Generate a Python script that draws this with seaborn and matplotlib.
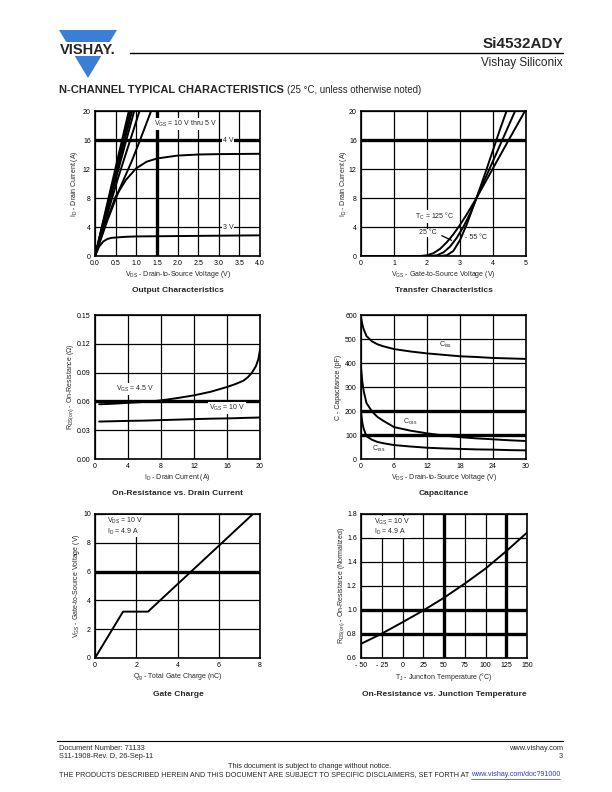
import matplotlib
matplotlib.use("Agg")
import matplotlib.pyplot as plt
from matplotlib.patches import Polygon, Rectangle
import seaborn as sns

# ---- output characteristics: VDS (V) vs ID (A) ----
out_vds_10v = [0.0, 0.82]
out_id_10v = [0.0, 20.0]
out_vds_9v = [0.0, 0.86]
out_id_9v = [0.0, 20.0]
out_vds_8v = [0.0, 0.90]
out_id_8v = [0.0, 20.0]
out_vds_7v = [0.0, 0.95]
out_id_7v = [0.0, 20.0]
out_vds_6v = [0.0, 0.55, 1.08]
out_id_6v = [0.0, 10.6, 20.0]
out_vds_5v = [0.0, 0.3, 0.6, 0.9, 1.1, 1.36]
out_id_5v = [0.0, 4.9, 9.3, 13.2, 16.1, 20.0]
out_vds_4v = [0.0, 0.1, 0.25, 0.5, 0.75, 1.0, 1.25, 1.5, 2.0, 2.5, 3.0, 4.0]
out_id_4v = [0.0, 1.8, 4.4, 8.2, 10.5, 12.1, 13.0, 13.45, 13.85, 14.0, 14.05, 14.1]
out_vds_3v = [0.0, 0.1, 0.2, 0.3, 0.4, 0.5, 0.75, 1.0, 2.0, 3.0, 4.0]
out_id_3v = [0.0, 1.3, 2.0, 2.35, 2.5, 2.55, 2.65, 2.7, 2.75, 2.8, 2.85]

# ---- transfer characteristics: VGS (V) vs ID (A) ----
tr_vgs_125 = [0.0, 1.8, 2.0, 2.2, 2.4, 2.6, 2.8, 3.0, 3.2, 3.5, 4.0, 4.5, 4.97]
tr_id_125 = [0.0, 0.0, 0.1, 0.4, 1.0, 1.9, 3.0, 4.3, 5.7, 8.0, 12.1, 16.2, 20.0]
tr_vgs_25 = [0.0, 2.1, 2.3, 2.5, 2.7, 2.9, 3.1, 3.3, 3.5, 4.0, 4.67]
tr_id_25 = [0.0, 0.0, 0.1, 0.5, 1.3, 2.5, 4.0, 5.8, 8.0, 13.1, 20.0]
tr_vgs_m55 = [0.0, 2.4, 2.6, 2.8, 3.0, 3.2, 3.5, 3.8, 4.0, 4.2, 4.41]
tr_id_m55 = [0.0, 0.0, 0.1, 0.7, 2.2, 4.3, 8.0, 11.9, 14.6, 17.3, 20.0]

# ---- on-resistance vs drain current ----
ron_id = [0.5, 2, 4, 6, 8, 10, 12, 14, 16, 17, 18, 18.5, 19, 19.5, 19.8, 20]
ron_45v = [0.057, 0.0575, 0.0585, 0.0595, 0.061, 0.0635, 0.0663, 0.070, 0.075,
           0.078, 0.0816, 0.085, 0.0896, 0.0966, 0.104, 0.114]
ron_10v = [0.039, 0.0393, 0.0397, 0.040, 0.0405, 0.041, 0.0415, 0.042, 0.0423,
           0.0425, 0.0428, 0.0429, 0.043, 0.0431, 0.0432, 0.0433]

# ---- capacitance vs VDS ----
cap_vds = [0, 0.25, 0.5, 1, 2, 3, 4, 6, 9, 12, 15, 18, 21, 24, 27, 30]
cap_ciss = [590, 560, 540, 512, 490, 478, 470, 458, 448, 440, 434, 428, 425, 421, 419, 417]
cap_coss = [380, 320, 282, 233, 198, 175, 160, 133, 118, 107, 98, 91, 86, 82, 78, 75]
cap_crss = [195, 150, 125, 95, 80, 71, 66, 58, 52, 47, 44, 42, 40, 39, 37, 36]

# ---- gate charge ----
gate_qg = [0.0, 1.36, 2.57, 7.66]
gate_vgs = [0.0, 3.22, 3.22, 10.0]

# ---- on-resistance vs junction temperature ----
tj_temp = [-50, -25, 0, 25, 50, 75, 100, 125, 150]
tj_ron = [0.718, 0.803, 0.898, 0.996, 1.102, 1.22, 1.345, 1.49, 1.645]

W, H = 612, 792
sns.set_style("white")
plt.rcParams["font.family"] = ["Liberation Sans", "DejaVu Sans"]
plt.rcParams["mathtext.fontset"] = "custom"
plt.rcParams["mathtext.rm"] = "Liberation Sans"

fig = plt.figure(figsize=(W / 100, H / 100), dpi=100)


def box(l, t, r, b):
    return [l / W, 1 - b / H, (r - l) / W, (b - t) / H]


def px(x, y):
    return x / W, 1 - y / H


def style(ax, xlim, ylim, xticks, yticks, xlabs, ylabs, thick_x=(), thick_y=()):
    ax.set_xlim(xlim)
    ax.set_ylim(ylim)
    ax.set_xticks(xticks)
    ax.set_yticks(yticks)
    ax.set_xticklabels(xlabs)
    ax.set_yticklabels(ylabs)
    ax.set_axisbelow(True)
    ax.grid(True, color="black", lw=0.9)
    for v in thick_x:
        ax.axvline(v, color="black", lw=2.4, zorder=1)
    for v in thick_y:
        ax.axhline(v, color="black", lw=2.4, zorder=1)
    ax.tick_params(length=0, labelsize=5, pad=3, colors="black")
    for s in ax.spines.values():
        s.set_visible(True)
        s.set_color("black")
        s.set_linewidth(1.2)


def curve(ax, xs, ys):
    sns.lineplot(x=xs, y=ys, ax=ax, color="black", lw=1.4,
                 estimator=None, sort=False, zorder=3)


white = dict(facecolor="white", edgecolor="none", pad=0.6)
fs = 5

# ---------- Output characteristics ----------
ax1 = fig.add_axes(box(95, 111, 260, 256))
for xs, ys in [(out_vds_10v, out_id_10v), (out_vds_9v, out_id_9v), (out_vds_8v, out_id_8v),
               (out_vds_7v, out_id_7v), (out_vds_6v, out_id_6v), (out_vds_5v, out_id_5v),
               (out_vds_4v, out_id_4v), (out_vds_3v, out_id_3v)]:
    curve(ax1, xs, ys)
xt = [0.0, 0.5, 1.0, 1.5, 2.0, 2.5, 3.0, 3.5, 4.0]
style(ax1, (0, 4), (0, 20), xt, [0, 4, 8, 12, 16, 20],
      [f"{v:.1f}" for v in xt], ["0", "4", "8", "12", "16", "20"],
      thick_x=[1.5], thick_y=[16])
ax1.text(1.42, 18.2, r"V$_\mathregular{GS}$ = 10 V thru 5 V", fontsize=fs, va="center", bbox=white, zorder=4)
ax1.text(3.23, 16, "4 V", fontsize=fs, va="center", ha="center", bbox=white, zorder=4)
ax1.text(3.23, 4, "3 V", fontsize=fs, va="center", ha="center", bbox=white, zorder=4)
ax1.set_xlabel(r"V$_\mathregular{DS}$ - Drain-to-Source Voltage (V)", fontsize=fs, labelpad=1.5)
ax1.set_ylabel(r"I$_\mathregular{D}$ - Drain Current (A)", fontsize=fs, labelpad=2)

# ---------- Transfer characteristics ----------
ax2 = fig.add_axes(box(361, 111, 526, 256))
for xs, ys in [(tr_vgs_125, tr_id_125), (tr_vgs_25, tr_id_25), (tr_vgs_m55, tr_id_m55)]:
    curve(ax2, xs, ys)
style(ax2, (0, 5), (0, 20), [0, 1, 2, 3, 4, 5], [0, 4, 8, 12, 16, 20],
      ["0", "1", "2", "3", "4", "5"], ["0", "4", "8", "12", "16", "20"], thick_y=[16])
ax2.text(1.64, 5.4, r"T$_\mathregular{C}$ = 125 °C", fontsize=fs, va="center", bbox=white, zorder=4)
ax2.text(1.76, 3.2, "25 °C", fontsize=fs, va="center", bbox=dict(facecolor="white", edgecolor="none", pad=0.3), zorder=4)
ax2.text(3.15, 2.6, "- 55 °C", fontsize=fs, va="center", bbox=dict(facecolor="white", edgecolor="none", pad=0.3), zorder=4)
ax2.annotate("", xy=(2.82, 2.0), xytext=(2.37, 2.97),
             arrowprops=dict(arrowstyle="-", color="black", lw=0.9), zorder=5)
ax2.set_xlabel(r"V$_\mathregular{GS}$ - Gate-to-Source Voltage (V)", fontsize=fs, labelpad=1.5)
ax2.set_ylabel(r"I$_\mathregular{D}$ - Drain Current (A)", fontsize=fs, labelpad=0)

# ---------- On-resistance vs drain current ----------
ax3 = fig.add_axes(box(95, 315, 260, 459))
curve(ax3, ron_id, ron_45v)
curve(ax3, ron_id, ron_10v)
yt = [0.0, 0.03, 0.06, 0.09, 0.12, 0.15]
style(ax3, (0, 20), (0, 0.15), [0, 4, 8, 12, 16, 20], yt,
      ["0", "4", "8", "12", "16", "20"], [f"{v:.2f}" for v in yt], thick_y=[0.06])
ax3.text(2.5, 0.0725, r"V$_\mathregular{GS}$ = 4.5 V", fontsize=fs, va="center", bbox=white, zorder=4)
ax3.text(13.8, 0.053, r"V$_\mathregular{GS}$ = 10 V", fontsize=fs, va="center", bbox=white, zorder=4)
ax3.set_xlabel(r"I$_\mathregular{D}$ - Drain Current (A)", fontsize=fs, labelpad=1.5)
ax3.set_ylabel(r"R$_\mathregular{DS(on)}$ - On-Resistance (Ω)", fontsize=fs, labelpad=1)

# ---------- Capacitance ----------
ax4 = fig.add_axes(box(361, 315, 526, 459))
for ys in [cap_ciss, cap_coss, cap_crss]:
    curve(ax4, cap_vds, ys)
style(ax4, (0, 30), (0, 600), [0, 6, 12, 18, 24, 30], [0, 100, 200, 300, 400, 500, 600],
      ["0", "6", "12", "18", "24", "30"], ["0", "100", "200", "300", "400", "500", "600"],
      thick_y=[100, 200])
ax4.text(14.2, 474, r"C$_\mathregular{iss}$", fontsize=fs, va="center")
ax4.text(7.6, 156, r"C$_\mathregular{oss}$", fontsize=fs, va="center")
ax4.text(2.0, 42, r"C$_\mathregular{rss}$", fontsize=fs, va="center")
ax4.set_xlabel(r"V$_\mathregular{DS}$ - Drain-to-Source Voltage (V)", fontsize=fs, labelpad=1.5)
ax4.set_ylabel("C - Capacitance (pF)", fontsize=fs, labelpad=2)

# ---------- Gate charge ----------
ax5 = fig.add_axes(box(95, 514, 260, 658))
curve(ax5, gate_qg, gate_vgs)
style(ax5, (0, 8), (0, 10), [0, 2, 4, 6, 8], [0, 2, 4, 6, 8, 10],
      ["0", "2", "4", "6", "8"], ["0", "2", "4", "6", "8", "10"], thick_y=[6])
ax5.text(0.56, 9.85, "V$_\\mathregular{DS}$ = 10 V\nI$_\\mathregular{D}$ = 4.9 A",
         fontsize=fs, va="top", linespacing=1.0, bbox=white, zorder=4)
ax5.set_xlabel(r"Q$_\mathregular{g}$ - Total Gate Charge (nC)", fontsize=fs, labelpad=1.5)
ax5.set_ylabel(r"V$_\mathregular{GS}$ - Gate-to-Source Voltage (V)", fontsize=fs, labelpad=1)

# ---------- On-resistance vs junction temperature ----------
ax6 = fig.add_axes(box(361, 514, 527, 658))
curve(ax6, tj_temp, tj_ron)
tt = [-50, -25, 0, 25, 50, 75, 100, 125, 150]
style(ax6, (-50, 150), (0.6, 1.8), tt, [0.6, 0.8, 1.0, 1.2, 1.4, 1.6, 1.8],
      [("- " + str(-v)) if v < 0 else str(v) for v in tt],
      ["0.6", "0.8", "1.0", "1.2", "1.4", "1.6", "1.8"],
      thick_x=[50, 125], thick_y=[0.8, 1.0])
ax6.text(-34, 1.775, "V$_\\mathregular{GS}$ = 10 V\nI$_\\mathregular{D}$ = 4.9 A",
         fontsize=fs, va="top", linespacing=1.0, bbox=white, zorder=4)
ax6.set_xlabel(r"T$_\mathregular{J}$ - Junction Temperature (°C)", fontsize=fs, labelpad=1.5)
ax6.set_ylabel(r"R$_\mathregular{DS(on)}$ - On-Resistance (Normalized)", fontsize=fs, labelpad=0)

# chart titles
for x, y, t in [(178, 290, "Output Characteristics"), (444, 290, "Transfer Characteristics"),
                (178, 493, "On-Resistance vs. Drain Current"), (444, 493, "Capacitance"),
                (178, 694, "Gate Charge"), (444, 694, "On-Resistance vs. Junction Temperature")]:
    fig.text(*px(x, y), t, fontsize=6, fontweight="bold", ha="center", va="center")

# ---------- page header / footer ----------
pg = fig.add_axes([0, 0, 1, 1], zorder=-1)
pg.set_xlim(0, W)
pg.set_ylim(H, 0)
pg.axis("off")
pg.add_patch(Polygon([[59, 30], [117, 30], [88, 78]], closed=True, color="#3a7fd5", lw=0))
pg.add_patch(Rectangle((55, 42), 66, 14, color="white", lw=0))
pg.text(87.5, 49.5, "VISHAY.", fontsize=10.5, fontweight="bold", ha="center", va="center")
pg.plot([130, 563], [53, 53], color="black", lw=1.0)
pg.text(563, 44, "Si4532ADY", fontsize=11, fontweight="bold", ha="right", va="center")
pg.text(563, 63, "Vishay Siliconix", fontsize=8.5, ha="right", va="center")
head = pg.text(59, 90, "N-CHANNEL TYPICAL CHARACTERISTICS", fontsize=8.0, fontweight="bold", va="center")

pg.plot([57, 563], [741, 741], color="black", lw=0.8)
ff = 5.3
pg.text(59, 748, "Document Number: 71133", fontsize=ff, va="center")
pg.text(59, 757, "S11-1908-Rev. D, 26-Sep-11", fontsize=ff, va="center")
pg.text(563, 748, "www.vishay.com", fontsize=ff, va="center", ha="right")
pg.text(563, 757, "3", fontsize=ff, va="center", ha="right")
pg.text(310, 766, "This document is subject to change without notice.", fontsize=ff, va="center", ha="center")
disc = pg.text(59, 775, "THE PRODUCTS DESCRIBED HEREIN AND THIS DOCUMENT ARE SUBJECT TO SPECIFIC DISCLAIMERS, SET FORTH AT",
               fontsize=5.15, va="center")

fig.canvas.draw()
inv = pg.transData.inverted()
hb = head.get_window_extent().transformed(inv)
pg.text(hb.x1 + 3, 90, "(25 °C, unless otherwise noted)", fontsize=6.9, va="center")
db = disc.get_window_extent().transformed(inv)
link = pg.text(db.x1 + 1.5, 775, "www.vishay.com/doc?91000", fontsize=5.15, va="center", color="#2a3bd0")
fig.canvas.draw()
lb = link.get_window_extent().transformed(inv)
pg.plot([lb.x0, lb.x1], [778.5, 778.5], color="#2a3bd0", lw=0.5)

fig.savefig("out.png", dpi=100)
